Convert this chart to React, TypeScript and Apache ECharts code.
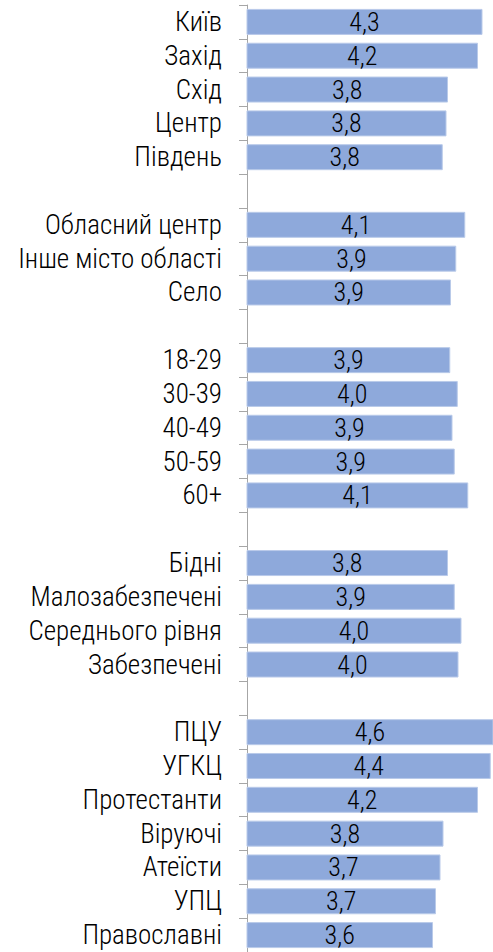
import React, { useEffect, useRef } from "react";
import * as echarts from "echarts";

const regions = ["Київ", "Захід", "Схід", "Центр", "Південь"];
const regionValues = [4.29, 4.23, 3.83, 3.81, 3.76];

const settlements = ["Обласний центр", "Інше місто області", "Село"];
const settlementValues = [4.06, 3.94, 3.87];

const ages = ["18-29", "30-39", "40-49", "50-59", "60+"];
const ageValues = [3.86, 3.96, 3.89, 3.92, 4.1];

const wealth = ["Бідні", "Малозабезпечені", "Середнього рівня", "Забезпечені"];
const wealthValues = [3.83, 3.92, 4.01, 3.97];

const religions = ["ПЦУ", "УГКЦ", "Протестанти", "Віруючі", "Атеїсти", "УПЦ", "Православні"];
const religionValues = [4.6, 4.4, 4.23, 3.77, 3.73, 3.67, 3.63];

const groups: [string[], number[]][] = [
  [regions, regionValues],
  [settlements, settlementValues],
  [ages, ageValues],
  [wealth, wealthValues],
  [religions, religionValues],
];

export default function App() {
  const ref = useRef<HTMLDivElement>(null);
  useEffect(() => {
    if (!ref.current) return;
    const cats: string[] = [];
    const vals: (number | null)[] = [];
    groups.forEach(([c, v], gi) => {
      if (gi > 0) {
        cats.push(" ".repeat(gi));
        vals.push(null);
      }
      c.forEach((name, i) => {
        cats.push(name);
        vals.push(v[i]);
      });
    });
    const font = "'Roboto Condensed', 'Liberation Sans', Arial, sans-serif";
    const chart = echarts.init(ref.current, undefined, { renderer: "svg" });
    chart.setOption({
      animation: false,
      grid: { left: 247, top: 5, width: 246, height: cats.length * 34, containLabel: false },
      xAxis: {
        type: "value",
        min: 1.15,
        max: 4.43,
        show: false,
        splitLine: { show: false },
      },
      yAxis: {
        type: "category",
        inverse: true,
        data: cats,
        axisLine: { show: true, lineStyle: { color: "#a6a6a6", width: 1 } },
        axisTick: { show: true, length: 8, interval: 0, lineStyle: { color: "#a6a6a6" } },
        axisLabel: {
          interval: 0,
          margin: 25,
          fontSize: 27,
          fontWeight: 300,
          fontFamily: font,
          color: "#000",
        },
      },
      series: [
        {
          type: "bar",
          data: vals,
          barWidth: 26,
          clip: true,
          itemStyle: { color: "#8EA9DB", borderColor: "#b9cae9", borderWidth: 1 },
          label: {
            show: true,
            position: "inside",
            fontSize: 26,
            fontWeight: 300,
            fontFamily: font,
            color: "#000",
            formatter: (p: any) => (p.value == null ? "" : Number(p.value).toFixed(1).replace(".", ",")),
          },
        },
      ],
    });
    return () => chart.dispose();
  }, []);
  return (
    <div
      ref={ref}
      style={{ position: "fixed", left: 0, top: 0, width: 493, height: 952, background: "#fff" }}
    />
  );
}
